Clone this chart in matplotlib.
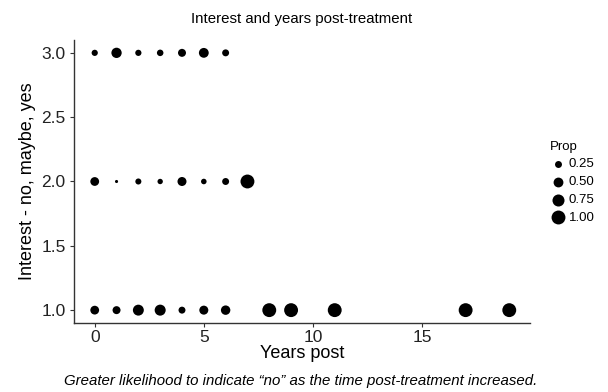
import numpy as np
from matplotlib import pyplot as plt

plt.rcParams['font.family'] = ['Liberation Sans', 'DejaVu Sans']

# proportion answering each interest level (1 = no, 2 = maybe, 3 = yes) by years post-treatment
years_yes = [0, 1, 2, 3, 4, 5, 6]
prop_yes = [0.20, 0.55, 0.20, 0.22, 0.33, 0.50, 0.25]

years_maybe = [0, 1, 2, 3, 4, 5, 6, 7]
prop_maybe = [0.40, 0.05, 0.19, 0.15, 0.42, 0.16, 0.25, 1.00]

years_no = [0, 1, 2, 3, 4, 5, 6, 8, 9, 11, 17, 19]
prop_no = [0.40, 0.33, 0.62, 0.63, 0.25, 0.42, 0.46, 1.00, 1.00, 1.00, 1.00, 1.00]

legend_props = [0.25, 0.50, 0.75, 1.00]

SIZE_SCALE = 100  # marker area (pt^2) for prop = 1


def size(p):
    return np.asarray(p) * SIZE_SCALE


fig = plt.figure(figsize=(6.08, 3.92), dpi=100)
ax = fig.add_axes([0.1217, 0.176, 0.75, 0.722])

for yrs, props, level in [(years_no, prop_no, 1), (years_maybe, prop_maybe, 2),
                          (years_yes, prop_yes, 3)]:
    ax.scatter(yrs, [level] * len(yrs), s=size(props), color='black',
               linewidths=0, zorder=3)

ax.set_xlim(-0.95, 19.95)
ax.set_ylim(0.9, 3.1)
ax.set_xticks([0, 5, 10, 15])
ax.set_yticks([1.0, 1.5, 2.0, 2.5, 3.0])
ax.set_yticklabels(['1.0', '1.5', '2.0', '2.5', '3.0'])

for side in ['top', 'right']:
    ax.spines[side].set_visible(False)
for side in ['left', 'bottom']:
    ax.spines[side].set_color('#333333')
    ax.spines[side].set_linewidth(1.0)
ax.tick_params(length=3, width=0.8, color='#333333', labelsize=12.5,
               labelcolor='#222222', pad=3)
ax.tick_params(axis='x', pad=2)

ax.set_xlabel('Years post', fontsize=13, labelpad=0)
ax.set_ylabel('Interest - no, maybe, yes', fontsize=13, labelpad=4)
ax.set_title('Interest and years post-treatment', fontsize=10.8, pad=12)

handles = [ax.scatter([], [], s=size(p), color='black', linewidths=0)
           for p in legend_props]
leg = fig.legend(handles, [f'{p:.2f}' for p in legend_props], title='Prop',
                 loc='upper left', bbox_to_anchor=(0.894, 0.658), frameon=False,
                 fontsize=9.5, title_fontsize=9.5, labelspacing=0.42,
                 handletextpad=0.2, handlelength=1.2, borderpad=0)
leg._legend_box.align = 'left'

fig.text(0.495, 0.018,
         'Greater likelihood to indicate \u201cno\u201d as the time post-treatment increased.',
         ha='center', fontsize=10.8, style='italic')

fig.savefig('out.png', dpi=100)
